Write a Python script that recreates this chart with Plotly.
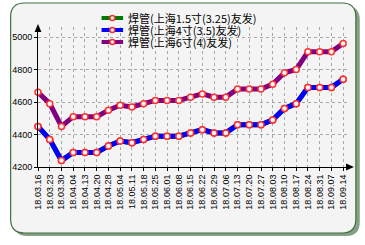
import plotly.graph_objects as go

dates = ["18.03.16","18.03.23","18.03.30","18.04.04","18.04.13","18.04.20","18.04.28",
         "18.05.04","18.05.11","18.05.18","18.05.25","18.06.01","18.06.08","18.06.15",
         "18.06.22","18.06.29","18.07.06","18.07.13","18.07.20","18.07.27","18.08.03",
         "18.08.10","18.08.17","18.08.24","18.08.31","18.09.07","18.09.14"]
s15 = [4450,4370,4240,4290,4290,4290,4330,4360,4350,4370,4390,4390,4390,4410,4430,4410,
       4410,4460,4460,4460,4490,4560,4590,4690,4690,4690,4740]
s4 = [4450,4370,4240,4290,4290,4290,4330,4360,4350,4370,4390,4390,4390,4410,4430,4410,
      4410,4460,4460,4460,4490,4560,4590,4690,4690,4690,4740]
s6 = [4660,4590,4450,4510,4510,4510,4550,4580,4570,4590,4610,4610,4610,4630,4650,4630,
      4630,4680,4680,4680,4710,4780,4800,4910,4910,4910,4960]
names = ["焊管(上海1.5寸(3.25)友发)", "焊管(上海4寸(3.5)友发)", "焊管(上海6寸(4)友发)"]
colors = ["#007a00", "#0000ff", "#800080"]
series = [s15, s4, s6]

W, H = 365, 245
L, R, T, B = 31, 15, 27, 78
pw, ph = W - L - R, H - T - B

def fx(px):
    return (px - L) / pw

def fy(py):
    return (H - B - py) / ph

fig = go.Figure()
marker = dict(symbol="circle", size=6, color="#f4f4f4", line=dict(color="#ff3030", width=1.5))
for name, col, ys in zip(names, colors, series):
    fig.add_trace(go.Scatter(x=list(range(len(dates))), y=ys, mode="lines+markers", name=name,
                             line=dict(color=col, width=5), marker=marker, showlegend=False,
                             hoverinfo="skip", cliponaxis=False))

def rrect(x0, y0, x1, y1, r):
    P = lambda a, b: f"{fx(a):.5f},{fy(b):.5f}"
    return (f"M{P(x0+r,y0)} L{P(x1-r,y0)} Q{P(x1,y0)} {P(x1,y0+r)} L{P(x1,y1-r)} "
            f"Q{P(x1,y1)} {P(x1-r,y1)} L{P(x0+r,y1)} Q{P(x0,y1)} {P(x0,y1-r)} "
            f"L{P(x0,y0+r)} Q{P(x0,y0)} {P(x0+r,y0)} Z")

shapes = []
shapes.append(dict(type="path", xref="paper", yref="paper", path=rrect(6, 6, 360, 236, 14),
                   fillcolor="#86a086", line=dict(width=0), layer="below"))
shapes.append(dict(type="path", xref="paper", yref="paper", path=rrect(3, 3, 356, 233, 14),
                   fillcolor="#f4f4f4", line=dict(color="#3f6f3f", width=1.2), layer="below"))
# axis arrows
shapes.append(dict(type="path", xref="paper", yref="paper",
                   path=f"M{fx(31)},{fy(24)} L{fx(27.5)},{fy(32)} L{fx(34.5)},{fy(32)} Z",
                   fillcolor="#000", line=dict(width=0)))
shapes.append(dict(type="path", xref="paper", yref="paper",
                   path=f"M{fx(354)},{fy(167)} L{fx(346)},{fy(163.5)} L{fx(346)},{fy(170.5)} Z",
                   fillcolor="#000", line=dict(width=0)))

# custom legend
for i, (name, col) in enumerate(zip(names, colors)):
    yy = 18 + 12 * i
    shapes.append(dict(type="line", xref="paper", yref="paper", x0=fx(96), x1=fx(118),
                       y0=fy(yy), y1=fy(yy), line=dict(color=col, width=4)))
    shapes.append(dict(type="circle", xref="paper", yref="paper", x0=fx(104.5), x1=fx(109.5),
                       y0=fy(yy - 2.5), y1=fy(yy + 2.5), fillcolor="#f4f4f4",
                       line=dict(color="#ff3030", width=1.5)))
    fig.add_annotation(x=fx(122), y=fy(yy), xref="paper", yref="paper",
                       text=name, showarrow=False, xanchor="left", yanchor="middle",
                       borderpad=0,
                       font=dict(family="Noto Sans CJK SC", size=11, color="#000000"))
fig.update_layout(shapes=shapes)

fig.update_layout(
    width=W, height=H,
    margin=dict(l=L, r=R, t=T, b=B, pad=0),
    paper_bgcolor="#ffffff",
    plot_bgcolor="rgba(0,0,0,0)",
    font=dict(family="Liberation Sans, Arial", size=9, color="#000"),
    xaxis=dict(range=[0, pw / 12.0], tickmode="array", tickvals=list(range(len(dates))),
               ticktext=dates, tickangle=-90, showgrid=True, gridcolor="#a8a8a8", griddash="dot",
               gridwidth=1, showline=True, linecolor="#000", linewidth=1, zeroline=False,
               ticks="outside", ticklen=3, tickcolor="#000", tickfont=dict(size=9)),
    yaxis=dict(range=[4200, 4200 + ph / 0.1625], tickvals=[4200, 4400, 4600, 4800, 5000],
               showgrid=True, gridcolor="#a8a8a8", griddash="dot", gridwidth=1,
               showline=True, linecolor="#000", linewidth=1, zeroline=False,
               ticks="outside", ticklen=3, tickcolor="#000", tickfont=dict(size=9)),
)
fig.write_html("out.html")
